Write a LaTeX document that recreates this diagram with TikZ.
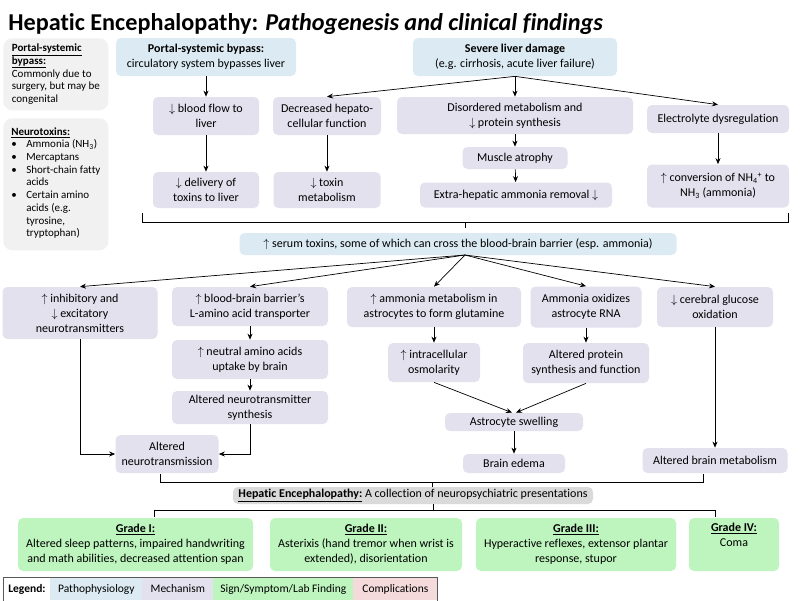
\documentclass[tikz,border=0pt]{standalone}
\usepackage{fontspec}
\setmainfont[Ligatures={NoCommon}]{Carlito}
\usetikzlibrary{arrows.meta}
\definecolor{pathcol}{RGB}{220,235,243}
\definecolor{mechcol}{RGB}{227,225,238}
\definecolor{signcol}{RGB}{190,245,190}
\definecolor{compcol}{RGB}{244,218,218}
\definecolor{notecol}{RGB}{241,241,241}
\definecolor{hecol}{RGB}{218,218,218}
\newcommand{\incr}{$\uparrow$}
\newcommand{\decr}{$\downarrow$}

\begin{document}
\begin{tikzpicture}[x=1pt,y=-1pt,->,>={Stealth[length=6pt,width=5pt]},line width=0.7pt,
  box/.style={rounded corners=5pt,align=center,inner sep=1pt,font=\fontsize{12}{15}\selectfont},
  patho/.style={box,fill=pathcol},
  mech/.style={box,fill=mechcol},
  sign/.style={box,fill=signcol},
  note/.style={rounded corners=9pt,fill=notecol,anchor=north west,align=left,inner xsep=4pt,inner ysep=5pt,minimum width=105,font=\fontsize{11}{12.7}\selectfont},
  legcell/.style={anchor=west,minimum height=22pt,inner sep=0pt,font=\fontsize{11.5}{14}\selectfont},
  sz/.style 2 args={minimum width=#1,minimum height=#2}]
\path[fill=white,use as bounding box] (0,0) rectangle (800,600);
\node[anchor=base west,inner sep=0pt,font=\fontsize{24.2}{28}\selectfont\bfseries] (TT) at (8,30) {Hepatic Encephalopathy: \textit{Pathogenesis and clinical findings}};
\node[note,minimum height=72] (NP) at (3,38) {\textbf{\underline{Portal-systemic}}\\\textbf{\underline{bypass:}}\\Commonly due to\\surgery, but may be\\congenital};
\node[note,minimum height=132] (NN) at (3,118) {\textbf{\underline{Neurotoxins:}}\\
\begin{tabular}{@{}p{15pt}@{}l@{}}
\textbullet & Ammonia (NH\textsubscript{3})\\
\textbullet & Mercaptans\\
\textbullet & Short-chain fatty\\ & acids\\
\textbullet & Certain amino\\ & acids (e.g.\\ & tyrosine,\\ & tryptophan)
\end{tabular}};
\node[patho,sz={180}{38}] (BP) at (206,57) {\textbf{Portal-systemic bypass:}\\circulatory system bypasses liver};
\node[patho,sz={204}{38}] (LD) at (515,57) {\textbf{Severe liver damage}\\(e.g. cirrhosis, acute liver failure)};
\node[mech,sz={106}{38}] (BF) at (206,116) {\decr{} blood flow to\\liver};
\node[mech,sz={108}{38}] (HF) at (327,116) {Decreased hepato-\\cellular function};
\node[mech,sz={236}{37}] (DM) at (515,115.5) {Disordered metabolism and\\\decr{} protein synthesis};
\node[mech,sz={142}{28}] (ED) at (718,119) {Electrolyte dysregulation};
\node[mech,sz={105}{22}] (MA) at (515,158) {Muscle atrophy};
\node[mech,sz={192}{25}] (EH) at (516,195) {Extra-hepatic ammonia removal \decr};
\node[mech,sz={106}{36}] (DL) at (206,190) {\decr{} delivery of\\toxins to liver};
\node[mech,sz={107}{36}] (TM) at (327,190) {\decr{} toxin\\metabolism};
\node[mech,sz={142}{43}] (CV) at (718,186) {\incr{} conversion of NH\textsubscript{4}\textsuperscript{+} to\\NH\textsubscript{3} (ammonia)};
\node[patho,sz={437}{22}] (SE) at (458,244) {\incr{} serum toxins, some of which can cross the blood-brain barrier (esp. ammonia)};
\coordinate (SEb) at (465,255);
\node[mech,sz={155}{52}] (IN) at (80,313) {\incr{} inhibitory and\\\decr{} excitatory\\neurotransmitters};
\node[mech,sz={156}{39}] (BB) at (250,306.5) {\incr{} blood-brain barrier’s\\L-amino acid transporter};
\node[mech,sz={174}{40}] (AM) at (434,307) {\incr{} ammonia metabolism in\\astrocytes to form glutamine};
\node[mech,sz={111}{41}] (OX) at (586,307) {Ammonia oxidizes\\astrocyte RNA};
\node[mech,sz={116}{40}] (GL) at (715,307) {\decr{} cerebral glucose\\oxidation};
\node[mech,sz={156}{39}] (NA) at (250,359.5) {\incr{} neutral amino acids\\uptake by brain};
\node[mech,sz={92}{39}] (OS) at (434,362.5) {\incr{} intracellular\\osmolarity};
\node[mech,sz={126}{40}] (PR) at (586,363) {Altered protein\\synthesis and function};
\node[mech,sz={156}{33}] (AS) at (250,407.5) {Altered neurotransmitter\\synthesis};
\node[mech,sz={138}{18}] (SW) at (514,422) {Astrocyte swelling};
\node[mech,sz={103}{38}] (NT) at (167,454) {Altered\\neurotransmission};
\node[mech,sz={102}{19}] (BE) at (514,463.5) {Brain edema};
\node[mech,sz={145}{25}] (BM) at (715,460.5) {Altered brain metabolism};
\node[box,fill=hecol,sz={360}{17}] (HE) at (413,495.5) {\textbf{\underline{Hepatic Encephalopathy:}} A collection of neuropsychiatric presentations};
\node[sign,sz={235}{53}] (G1) at (135.5,544.5) {\textbf{\underline{Grade I:}}\\Altered sleep patterns, impaired handwriting\\and math abilities, decreased attention span};
\node[sign,sz={192}{53}] (G2) at (366,544.5) {\textbf{\underline{Grade II:}}\\Asterixis (hand tremor when wrist is\\extended), disorientation};
\node[sign,sz={200}{53}] (G3) at (576,544.5) {\textbf{\underline{Grade III:}}\\Hyperactive reflexes, extensor plantar\\response, stupor};
\node[sign,sz={90}{53}] (G4) at (734,544.5) {\textbf{\underline{Grade IV:}}\\Coma\\\strut};
\node[legcell,fill=pathcol,minimum width=92] (L1) at (50,589) {Pathophysiology};
\node[legcell,fill=mechcol,minimum width=71] (L2) at (142,589) {Mechanism};
\node[legcell,fill=signcol,minimum width=140] (L3) at (213,589) {Sign/Symptom/Lab Finding};
\node[legcell,fill=compcol,minimum width=84] (L4) at (353,589) {Complications};
\node[legcell] (L0) at (8,589) {\textbf{Legend:}};
\draw[-,gray!70!black] (3,601) |- (437,577.5) -- (437,601);
\draw (BP) -- (BF);
\draw (LD.south) -- (HF.north);
\draw (LD) -- (DM);
\draw (LD.south) -- (ED.north);
\draw (BF) -- (DL);
\draw (HF) -- (TM);
\draw (DM) -- (MA);
\draw (MA) -- (EH);
\draw (ED) -- (CV);
\draw[-] (142,213) |- (788,222) -- (788,213);
\draw[-] (465,222) -- (465,228);
\draw (SEb) -- (IN.north);
\draw (SEb) -- (BB.north);
\draw (SEb) -- (AM.north);
\draw (SEb) -- (OX.north);
\draw (SEb) -- (GL.north);
\draw (BB) -- (NA);
\draw (NA) -- (AS);
\draw (IN.south) |- (NT.west);
\draw (AS.south) |- (NT.east);
\draw (AM) -- (OS);
\draw (OX) -- (PR);
\draw (OS.south) -- ([xshift=-2pt]SW.north);
\draw (PR.south) -- ([xshift=2pt]SW.north);
\draw (SW) -- (BE);
\draw (GL) -- (BM);
\draw[-] (160,474) |- (703,482) -- (703,474);
\draw[-] (432,482) -- (432,487);
\draw[-] (154,517) |- (715,510) -- (715,517);
\draw[-] (433,504) -- (433,510);
\end{tikzpicture}
\end{document}
